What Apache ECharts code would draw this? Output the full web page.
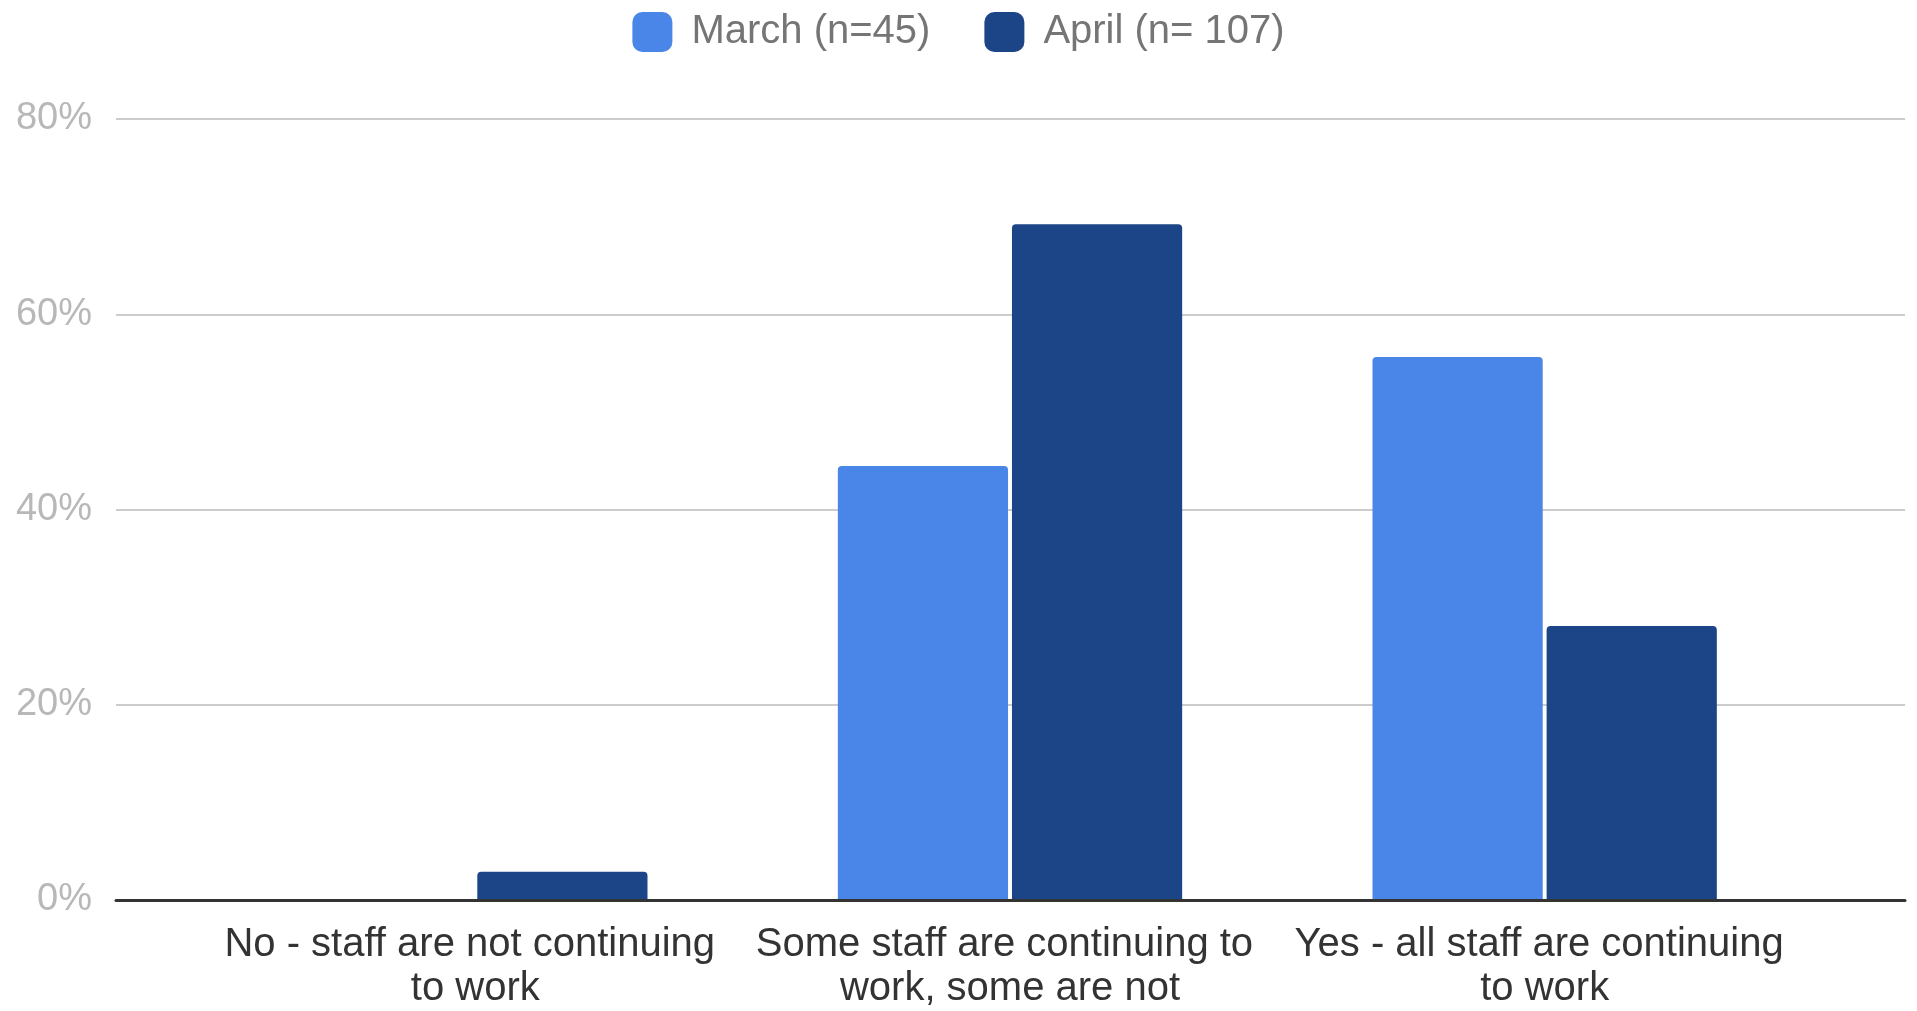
<!DOCTYPE html>
<html>
<head>
<meta charset="utf-8">
<style>
  html, body { margin: 0; padding: 0; background: #fff; }
  #chart { width: 1917px; height: 1011px; }
</style>
<script src="https://cdn.jsdelivr.net/npm/echarts@6/dist/echarts.min.js"></script>
</head>
<body>
<div id="chart"></div>
<script>
// categories and survey shares (%)
var categories = [
  "No - staff are not continuing to work",
  "Some staff are continuing to work, some are not",
  "Yes - all staff are continuing to work"
];
var seriesNames = ["March (n=45)", "April (n= 107)"];
var marchValues = [0, 44.4, 55.6];
var aprilValues = [2.8, 69.2, 28.0];
var yTicks = { min: 0, max: 80, interval: 20 };

var FONT = "'Liberation Sans', Arial, sans-serif";

var chart = echarts.init(document.getElementById("chart"));
chart.setOption({
  animation: false,
  textStyle: { fontFamily: FONT },
  legend: {
    top: 7,
    left: "center",
    icon: "roundRect",
    itemWidth: 40,
    itemHeight: 40,
    itemGap: 54,
    textStyle: { fontSize: 40, color: "#757575", fontFamily: FONT, padding: [0, 0, 0, 14] },
    data: seriesNames
  },
  // outer grid: gridlines, y labels and baseline across the full width
  // inner grid: the categories sit inset from the gridline ends
  grid: [
    { left: 116, right: 12, top: 119, bottom: 111 },
    { left: 208, right: 105, top: 119, bottom: 111 }
  ],
  xAxis: [
    {
      gridIndex: 0,
      type: "value",
      min: 0,
      max: 1,
      axisLabel: { show: false },
      axisTick: { show: false },
      splitLine: { show: false },
      axisLine: { show: true, lineStyle: { color: "#333", width: 3 } },
      z: 10
    },
    {
      gridIndex: 1,
      type: "category",
      data: categories,
      axisLine: { show: false },
      axisTick: { show: false },
      axisLabel: {
        interval: 0,
        margin: 24,
        fontSize: 40,
        lineHeight: 44,
        color: "#333",
        fontFamily: FONT,
        width: 520,
        overflow: "break"
      }
    }
  ],
  yAxis: [
    {
      gridIndex: 0,
      type: "value",
      min: yTicks.min,
      max: yTicks.max,
      interval: yTicks.interval,
      axisLine: { show: false },
      axisTick: { show: false },
      splitLine: { lineStyle: { color: "#cccccc", width: 2 } },
      axisLabel: {
        formatter: "{value}%",
        fontSize: 38,
        color: "#b8b8b8",
        margin: 24,
        fontFamily: FONT
      }
    },
    {
      gridIndex: 1,
      type: "value",
      min: yTicks.min,
      max: yTicks.max,
      interval: yTicks.interval,
      show: false
    }
  ],
  series: [
    {
      name: seriesNames[0],
      type: "bar",
      xAxisIndex: 1,
      yAxisIndex: 1,
      data: marchValues,
      barCategoryGap: "35.6%",
      barGap: "2.3%",
      itemStyle: { color: "#4a86e8", borderRadius: [4, 4, 0, 0] }
    },
    {
      name: seriesNames[1],
      type: "bar",
      xAxisIndex: 1,
      yAxisIndex: 1,
      data: aprilValues,
      barCategoryGap: "35.6%",
      barGap: "2.3%",
      itemStyle: { color: "#1c4587", borderRadius: [4, 4, 0, 0] }
    }
  ]
});
</script>
</body>
</html>
